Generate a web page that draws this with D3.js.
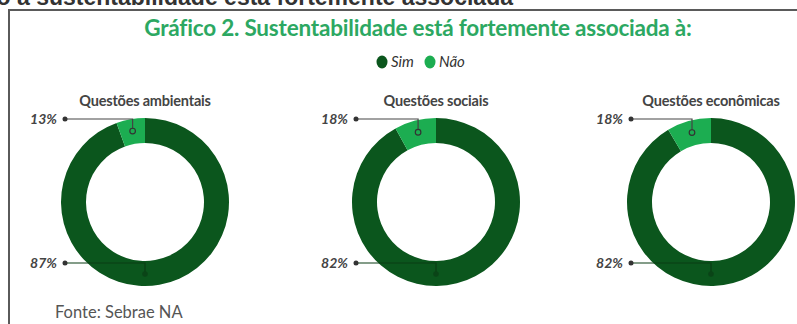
<!DOCTYPE html>
<html>
<head>
<meta charset="utf-8">
<script src="https://cdn.jsdelivr.net/npm/d3@7"></script>
<style>
  html, body { margin: 0; padding: 0; background: #fff; }
  svg { display: block; }
</style>
</head>
<body>
<div id="chart"></div>
<script>
// data
var panels = ['Questões ambientais', 'Questões sociais', 'Questões econômicas'];
var series = ['Sim', 'Não'];
var simLabels = [87, 82, 82];
var naoLabels = [13, 18, 18];
// share of the ring the "Não" wedge actually covers in the picture (smaller than its label)
var naoDrawn = [5.5, 8, 8.5];

var width = 797, height = 324,
    outerR = 84, innerR = 59, cy = 202,
    dark = '#0b561d', light = '#1cad51';

var color = d3.scaleOrdinal().domain(series).range([dark, light]);
var xCenter = d3.scaleOrdinal().domain(panels).range([145, 436, 711]);

var svg = d3.select('#chart')
    .append('svg')
    .attr('width', width)
    .attr('height', height);

// cut-off heading of the page above the figure
svg.append('text')
    .text('Relação a sustentabilidade está fortemente associada')
    .attr('x', 513)
    .attr('y', 5)
    .attr('text-anchor', 'end')
    .attr('font-family', 'Liberation Sans, Arial, sans-serif')
    .attr('font-weight', 'bold')
    .attr('font-size', '23px')
    .attr('fill', '#333');

// frame
svg.append('path')
    .attr('d', 'M9,' + height + 'V10H' + width)
    .attr('fill', 'none')
    .style('stroke', '#5a5a5a')
    .style('stroke-width', 2);

svg.append('text')
    .text('Gráfico 2. Sustentabilidade está fortemente associada à:')
    .attr('x', 418)
    .attr('y', 36)
    .attr('text-anchor', 'middle')
    .attr('font-family', 'Lato, sans-serif')
    .attr('font-weight', 'bold')
    .attr('font-size', '22.5px')
    .attr('letter-spacing', '-0.2px')
    .attr('fill', '#2ca862');

// legend
var legend = svg.append('g')
    .selectAll('g')
    .data(series)
    .enter()
    .append('g')
    .attr('transform', (d, i) => 'translate(' + (382 + i * 48) + ',62)');

legend.append('ellipse')
    .attr('rx', 5.5)
    .attr('ry', 6.5)
    .attr('fill', (d) => color(d));

legend.append('text')
    .text((d) => d)
    .attr('x', 9)
    .attr('y', 5)
    .attr('font-family', 'Lato, sans-serif')
    .attr('font-style', 'italic')
    .attr('font-size', '15px')
    .attr('fill', '#333');

var pie = d3.pie().sort(null).value((d) => d.v);
var arc = d3.arc().innerRadius(innerR).outerRadius(outerR);
var markArc = d3.arc().innerRadius(72).outerRadius(72);

panels.forEach(function(name, i){
    var cx = xCenter(name),
        slices = pie([{k: 'Sim', v: 100 - naoDrawn[i]}, {k: 'Não', v: naoDrawn[i]}]),
        g = svg.append('g').attr('transform', 'translate(' + cx + ',' + cy + ')');

    g.append('text')
        .text(name)
        .attr('x', 0)
        .attr('y', -96)
        .attr('text-anchor', 'middle')
        .attr('font-family', 'Lato, sans-serif')
        .attr('font-weight', 'bold')
        .attr('font-size', '14.5px')
        .attr('letter-spacing', '-0.2px')
        .attr('fill', '#444');

    g.selectAll('path')
        .data(slices)
        .enter()
        .append('path')
        .attr('d', arc)
        .attr('fill', (d) => color(d.data.k));

    // leader for "Não" (top) and "Sim" (bottom)
    var top = markArc.centroid(slices[1]),
        bottom = [0, 72],
        leaders = [
            {label: naoLabels[i] + '%', y: -83, end: top, ring: true},
            {label: simLabels[i] + '%', y: 61, end: bottom, ring: false}
        ];

    leaders.forEach(function(l){
        g.append('path')
            .attr('d', 'M-80,' + l.y + 'H' + l.end[0] + 'V' + (l.end[1] - (l.ring ? 2.5 : 0)))
            .attr('fill', 'none')
            .style('stroke', l.ring ? '#444' : '#0a3d14')
            .style('stroke-width', 1.2);

        g.append('circle')
            .attr('cx', -80)
            .attr('cy', l.y)
            .attr('r', 2.5)
            .attr('fill', '#333');

        g.append('circle')
            .attr('cx', l.end[0])
            .attr('cy', l.end[1])
            .attr('r', 2.8)
            .attr('fill', l.ring ? 'none' : '#0a4417')
            .style('stroke', l.ring ? '#333' : 'none')
            .style('stroke-width', 1.2);

        g.append('text')
            .text(l.label)
            .attr('x', -88)
            .attr('y', l.y + 5)
            .attr('text-anchor', 'end')
            .attr('font-family', 'Lato, sans-serif')
            .attr('font-weight', 'bold')
            .attr('font-style', 'italic')
            .attr('font-size', '14px')
            .attr('fill', '#444');
    });
});

svg.append('text')
    .text('Fonte: Sebrae NA')
    .attr('x', 55)
    .attr('y', 318)
    .attr('font-family', 'Lato, sans-serif')
    .attr('font-size', '16.5px')
    .attr('fill', '#555');
</script>
</body>
</html>
